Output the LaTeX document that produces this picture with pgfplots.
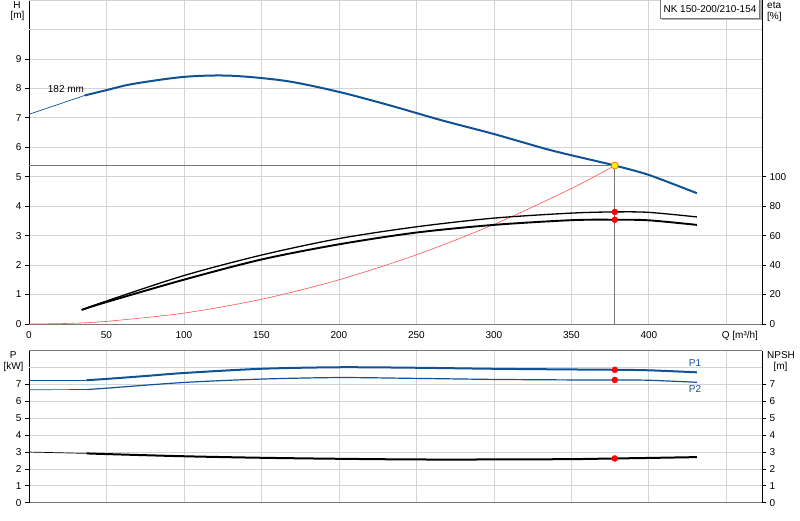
\documentclass[border=0pt]{standalone}
\usepackage{fontspec}
\setmainfont{Liberation Sans}
\usepackage{pgfplots}
\pgfplotsset{compat=1.18}
\definecolor{curveblue}{RGB}{16,82,150}
\definecolor{gridgray}{RGB}{212,212,212}
\definecolor{framegray}{RGB}{120,120,120}
\definecolor{sysred}{RGB}{255,80,80}
\begin{document}
\fontsize{10}{12}\selectfont
\begin{tikzpicture}[x=1pt,y=1pt]
\pgfplotsset{
  base/.style={
    scale only axis, width=733pt,
    xmin=0, xmax=473,
    /pgf/number format/assume math mode=true,
    tick align=outside, major tick length=4pt,
    every tick/.style={black, line width=0.8pt},
    x tick style={draw=none},
    grid style={gridgray, line width=0.8pt},
  }
}
% ---------------- top: H ----------------
\begin{axis}[base, at={(29pt,196pt)}, anchor=south west, height=324pt,
  ymin=0, ymax=11,
  axis x line*=bottom, axis y line*=left,
  x axis line style={framegray, line width=0.8pt},
  y axis line style={black, line width=0.8pt},
  xtick={0,50,...,450}, xticklabels={0,50,100,150,200,250,300,350,400,{}},
  xticklabel style={yshift=0pt},
  ytick={0,...,9},
  extra y ticks={10,11}, extra y tick labels={},
  extra y tick style={major tick length=0pt, grid=major},
  grid=major, clip=false]
\addplot[curveblue, line width=0.7pt] coordinates {(0,7.12) (36,7.76)};
\addplot[curveblue, line width=2pt, smooth] coordinates {
 (36,7.76) (50,7.94) (67,8.15) (100,8.39) (130,8.43) (166,8.25) (200,7.88)
 (233,7.42) (266,6.92) (300,6.45) (336,5.91) (367,5.52) (378,5.38) (400,5.06) (431,4.44)};
\addplot[sysred, line width=0.6pt, smooth] coordinates {
 (0,0) (25,0.02) (50,0.09) (100,0.37) (150,0.84) (200,1.5) (250,2.35) (300,3.38) (350,4.6) (378,5.38)};
\addplot[framegray, line width=0.9pt] coordinates {(0,5.38) (378,5.38)};
\addplot[framegray, line width=0.9pt] coordinates {(378,5.38) (378,0)};
\addplot[only marks, mark=*, mark size=3.5pt, mark options={fill=yellow, draw=orange!80!red, line width=0.7pt}] coordinates {(378,5.38)};
\node[anchor=base west, inner sep=0pt, xshift=-4.7pt, yshift=-14.9pt] at (axis cs:450,0) {Q [m³/h]};
\end{axis}
% ---------------- top: eta ----------------
\begin{axis}[base, at={(29pt,196pt)}, anchor=south west, height=324pt,
  ymin=0, ymax=220,
  axis x line=none, axis y line*=right,
  y axis line style={black, line width=0.8pt},
  ytick={0,20,...,100}]
\addplot[black, line width=1.3pt, smooth] coordinates {
 (34,9.6) (50,15.6) (100,32.9) (150,46.8) (200,58.0) (250,66.0) (300,71.9) (350,75.3) (378,76.1) (400,75.8) (431,72.7)};
\addplot[black, line width=1.9pt, smooth] coordinates {
 (34,9.6) (50,14.9) (100,30.1) (150,43.8) (200,54.1) (250,62.1) (300,67.3) (350,70.5) (378,70.8) (400,70.4) (431,67.3)};
\addplot[only marks, mark=*, mark size=3pt, red] coordinates {(378,76.1) (378,70.8)};
\end{axis}
% ---------------- bottom: P ----------------
\begin{axis}[base, at={(29pt,17.3pt)}, anchor=south west, height=152pt,
  ymin=0, ymax=9,
  separate axis lines,
  x axis line style={framegray, line width=0.8pt},
  y axis line style={black, line width=0.8pt},
  xtick={0,50,...,450}, xticklabels={},
  ytick={0,...,7}, ytick pos=left,
  extra y ticks={8}, extra y tick labels={},
  extra y tick style={major tick length=0pt, grid=major},
  grid=major]
\addplot[curveblue, line width=0.7pt] coordinates {(0,7.25) (37,7.25)};
\addplot[curveblue, line width=2pt, smooth] coordinates {
 (37,7.25) (50,7.33) (75,7.5) (100,7.68) (150,7.93) (200,8.02) (250,7.99) (300,7.93) (350,7.89) (378,7.87) (400,7.84) (431,7.72)};
\addplot[curveblue, line width=0.7pt] coordinates {(0,6.69) (37,6.70)};
\addplot[curveblue, line width=1.2pt, smooth] coordinates {
 (37,6.70) (50,6.78) (100,7.12) (150,7.32) (200,7.41) (250,7.36) (300,7.30) (350,7.27) (378,7.27) (400,7.25) (431,7.13)};
\addplot[black, line width=0.7pt] coordinates {(0,3.0) (37,2.92)};
\addplot[black, line width=2pt, smooth] coordinates {
 (37,2.92) (50,2.88) (100,2.75) (150,2.66) (200,2.60) (250,2.56) (300,2.56) (350,2.58) (378,2.62) (400,2.65) (431,2.70)};
\addplot[only marks, mark=*, mark size=3pt, red] coordinates {(378,7.87) (378,7.27) (378,2.62)};
\end{axis}
% ---------------- bottom: NPSH ----------------
\begin{axis}[base, at={(29pt,17.3pt)}, anchor=south west, height=152pt,
  ymin=0, ymax=9,
  axis x line=none, axis y line*=right,
  y axis line style={black, line width=0.8pt},
  ytick={0,...,7}]
\end{axis}
% ---------------- labels ----------------
\node at (17,515) {H};
\node at (17.5,504) {[m]};
\node[anchor=west, inner sep=0pt] at (767,515) {eta};
\node[anchor=west, inner sep=0pt] at (767,503) {[\%]};
\node at (13.3,165) {P};
\node at (13.5,153) {[kW]};
\node at (781,165) {NPSH};
\node at (780.5,153) {[m]};
\node[anchor=west, inner sep=0pt] at (47.7,430.7) {182 mm};
\node[text=curveblue] at (695,157) {P1};
\node[text=curveblue] at (695,131) {P2};
\draw[framegray!60, line width=1.2pt] (661.5,500.5) -- (761,500.5) -- (761,520);
\draw[fill=white, draw=framegray, line width=0.6pt] (660,501.5) rectangle (759.5,520.5);
\node at (710,511) {NK 150-200/210-154};
\pgfresetboundingbox
\path[use as bounding box] (0,0) rectangle (800,520);
\end{tikzpicture}
\end{document}
